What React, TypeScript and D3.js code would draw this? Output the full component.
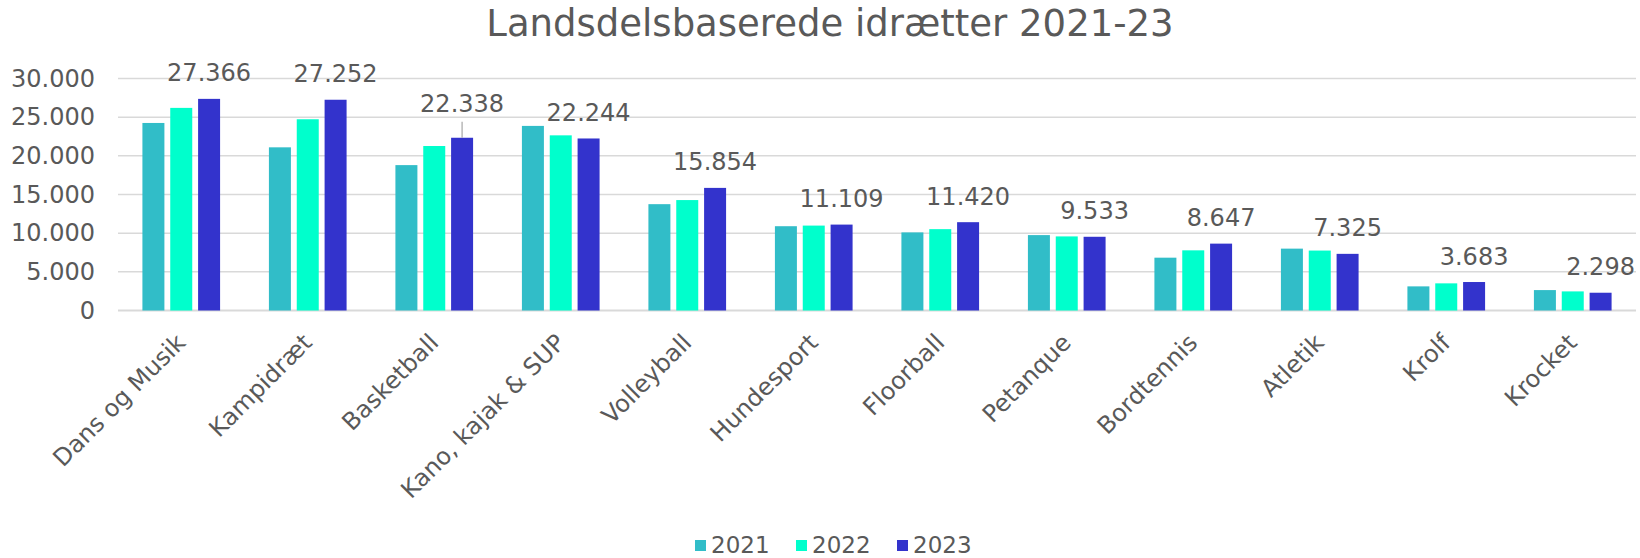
import * as d3 from "d3";

const categories = [
  "Dans og Musik", "Kampidræt", "Basketball", "Kano, kajak & SUP", "Volleyball", "Hundesport",
  "Floorball", "Petanque", "Bordtennis", "Atletik", "Krolf", "Krocket",
];
const years = ["2021", "2022", "2023"];
const v2021 = [24250, 21100, 18800, 23870, 13750, 10900, 10100, 9750, 6830, 8000, 3120, 2640];
const v2022 = [26200, 24730, 21270, 22650, 14280, 10980, 10520, 9580, 7780, 7750, 3510, 2470];
const v2023 = [27366, 27252, 22338, 22244, 15854, 11109, 11420, 9533, 8647, 7325, 3683, 2298];
const yTicks = [0, 5000, 10000, 15000, 20000, 25000, 30000];
const colors = ["#31BDC8", "#00FFCC", "#3333CC"];

const W = 1640, H = 558;
const FONT = "'DejaVu Sans', Verdana, sans-serif";
const TXT = "#595959";
const fmt = (v: number) => d3.format(",")(v).replace(/,/g, ".");

export default function App() {
  const series = [v2021, v2022, v2023];
  const x0 = d3.scaleBand<string>().domain(categories).range([118, 1636]).paddingInner(0.386).paddingOuter(0.193);
  const x1 = d3.scaleBand<string>().domain(years).range([0, x0.bandwidth()]).paddingInner(0.21);
  const y = d3.scaleLinear().domain([0, 30000]).range([310.5, 78.5]);

  // the Basketball label sits higher, with a leader line
  const lift: Record<string, number> = { Basketball: 8 };

  return (
    <svg width={W} height={H} style={{ position: "absolute", left: 0, top: 0, background: "#fff" }} fontFamily={FONT}>
      <text x={830} y={36} textAnchor="middle" fontSize={37} fill={TXT}>
        Landsdelsbaserede idrætter 2021-23
      </text>

      {yTicks.map((t) => (
        <g key={t}>
          <line x1={118} x2={1636} y1={y(t)} y2={y(t)} stroke="#D9D9D9" strokeWidth={t === 0 ? 2 : 1.5} />
          <text x={95} y={y(t)} textAnchor="end" dominantBaseline="central" fontSize={24} fill={TXT}>
            {fmt(t)}
          </text>
        </g>
      ))}

      {categories.map((c, i) => (
        <g key={c} transform={`translate(${x0(c)},0)`}>
          {years.map((yr, j) => {
            const v = series[j][i];
            return (
              <rect key={yr} x={x1(yr)} y={y(v)} width={x1.bandwidth()} height={y(0) - y(v)} fill={colors[j]} />
            );
          })}
        </g>
      ))}

      {categories.map((c, i) => {
        const cx = (x0(c) ?? 0) + (x1("2023") ?? 0) + x1.bandwidth() / 2;
        const top = y(v2023[i]);
        const l = lift[c] ?? 0;
        return (
          <g key={c}>
            {l > 0 && <line x1={cx} x2={cx} y1={top - 16} y2={top} stroke="#A6A6A6" strokeWidth={1.2} />}
            <text x={cx} y={top - 25.5 - l} textAnchor="middle" dominantBaseline="central" fontSize={24} fill={TXT}>
              {fmt(v2023[i])}
            </text>
          </g>
        );
      })}

      {categories.map((c) => {
        const cx = (x0(c) ?? 0) + x0.bandwidth() / 2;
        return (
          <text key={c} transform={`translate(${cx},${y(0) + 28})  rotate(-45)`} textAnchor="end"
            dominantBaseline="central" fontSize={24} fill={TXT}>
            {c}
          </text>
        );
      })}

      {years.map((yr, j) => (
        <g key={yr} transform={`translate(${695 + j * 101},0)`}>
          <rect x={0} y={540} width={11} height={11} fill={colors[j]} />
          <text x={16} y={545} dominantBaseline="central" fontSize={23} fill={TXT}>{yr}</text>
        </g>
      ))}
    </svg>
  );
}
